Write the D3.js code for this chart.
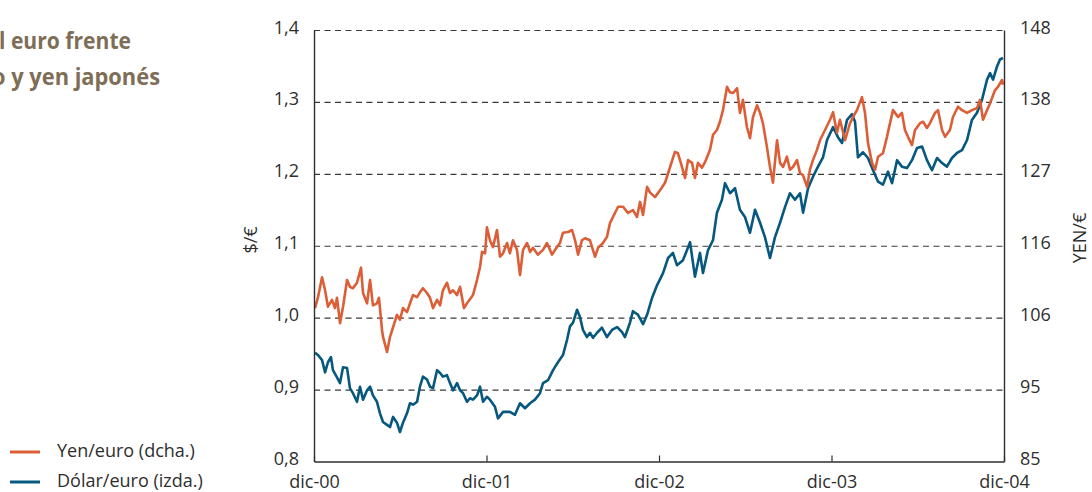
<!DOCTYPE html>
<html>
<head>
<meta charset="utf-8">
<script src="https://cdn.jsdelivr.net/npm/d3@7"></script>
<style>
  body { margin: 0; background: #fff; }
  svg { display: block; font-family: "Open Sans", Lato, sans-serif; }
</style>
</head>
<body>
<svg width="1092" height="492"></svg>
<script>
// months since dic-00, value
const dolarEuro = [
  [0.07,0.951],[0.28,0.948],[0.56,0.941],[0.77,0.924],[0.97,0.938],[1.18,0.945],[1.32,0.927],[1.60,0.917],
  [1.81,0.909],[2.02,0.931],[2.30,0.930],[2.50,0.902],[2.71,0.895],[2.99,0.883],[3.20,0.904],[3.41,0.886],
  [3.69,0.899],[3.90,0.904],[4.10,0.892],[4.38,0.883],[4.59,0.867],[4.80,0.855],[5.08,0.851],[5.29,0.848],
  [5.50,0.862],[5.77,0.854],[5.98,0.841],[6.19,0.854],[6.47,0.867],[6.68,0.881],[6.89,0.879],[7.17,0.883],
  [7.37,0.904],[7.58,0.918],[7.86,0.914],[8.07,0.904],[8.28,0.902],[8.56,0.927],[8.77,0.923],[8.97,0.918],
  [9.25,0.920],[9.46,0.909],[9.67,0.899],[9.95,0.909],[10.16,0.899],[10.37,0.895],[10.64,0.883],[10.85,0.888],
  [11.06,0.886],[11.34,0.892],[11.55,0.904],[11.76,0.883],[12.03,0.890],[12.24,0.886],[12.59,0.876],[12.80,0.860],
  [13.15,0.869],[13.63,0.869],[13.98,0.865],[14.33,0.881],[14.68,0.874],[15.03,0.881],[15.37,0.886],[15.72,0.895],
  [15.93,0.909],[16.28,0.913],[16.63,0.927],[16.97,0.938],[17.32,0.948],[17.60,0.969],[17.81,0.988],[18.02,0.993],
  [18.30,1.011],[18.50,1.001],[18.71,0.983],[18.99,0.973],[19.20,0.979],[19.41,0.972],[19.69,0.979],[20.03,0.986],
  [20.38,0.973],[20.73,0.983],[21.08,0.987],[21.43,0.980],[21.63,0.973],[21.98,0.993],[22.19,1.009],[22.54,1.004],
  [22.89,0.991],[23.17,1.004],[23.51,1.027],[23.86,1.045],[24.28,1.062],[24.63,1.083],[24.97,1.090],[25.25,1.073],
  [25.67,1.080],[25.95,1.094],[26.16,1.105],[26.50,1.057],[26.85,1.090],[27.06,1.062],[27.41,1.094],[27.76,1.108],
  [28.03,1.146],[28.38,1.164],[28.59,1.187],[28.94,1.173],[29.29,1.180],[29.63,1.150],[29.98,1.140],[30.33,1.118],
  [30.68,1.150],[31.03,1.132],[31.37,1.112],[31.72,1.083],[32.07,1.112],[32.42,1.132],[32.77,1.154],[33.11,1.173],
  [33.46,1.164],[33.81,1.173],[34.02,1.146],[34.37,1.180],[34.71,1.196],[35.06,1.210],[35.41,1.223],[35.69,1.247],
  [36.11,1.265],[36.45,1.251],[36.73,1.243],[37.08,1.275],[37.43,1.283],[37.64,1.272],[37.84,1.223],[38.19,1.230],
  [38.54,1.222],[38.89,1.205],[39.24,1.189],[39.58,1.185],[39.93,1.203],[40.21,1.187],[40.56,1.219],[40.90,1.210],
  [41.25,1.208],[41.60,1.219],[41.95,1.236],[42.30,1.238],[42.64,1.219],[42.99,1.205],[43.34,1.222],[43.69,1.215],
  [44.03,1.210],[44.38,1.222],[44.73,1.229],[45.08,1.233],[45.43,1.247],[45.77,1.275],[46.12,1.285],[46.47,1.303],
  [46.82,1.331],[47.03,1.340],[47.24,1.331],[47.51,1.349],[47.72,1.359],[47.93,1.361]
];
const yenEuro = [
  [0.07,107.4],[0.28,109.0],[0.56,111.9],[0.77,110.0],[0.97,107.6],[1.25,108.6],[1.46,107.4],[1.60,108.9],
  [1.81,105.2],[2.02,107.6],[2.30,111.5],[2.50,110.5],[2.71,110.3],[2.99,111.1],[3.27,113.3],[3.41,109.6],
  [3.69,108.1],[3.90,111.5],[4.10,107.8],[4.38,108.1],[4.52,108.9],[4.73,104.2],[4.80,103.2],[5.08,101.0],
  [5.29,103.2],[5.50,104.6],[5.77,106.4],[5.98,105.7],[6.19,107.4],[6.47,106.8],[6.68,108.1],[6.89,109.3],
  [7.17,109.0],[7.37,109.7],[7.58,110.3],[7.86,109.6],[8.07,108.9],[8.28,107.4],[8.56,108.6],[8.77,107.8],
  [8.97,110.0],[9.25,111.1],[9.46,109.6],[9.67,110.0],[9.95,109.3],[10.16,110.5],[10.43,107.4],[10.71,108.3],
  [11.06,109.3],[11.34,111.5],[11.55,113.4],[11.69,115.6],[11.90,115.4],[12.03,119.2],[12.24,117.3],[12.45,116.3],
  [12.73,118.8],[12.94,114.9],[13.15,115.4],[13.43,116.9],[13.63,115.4],[13.84,117.3],[14.12,115.9],[14.33,112.2],
  [14.54,115.9],[14.82,116.9],[15.03,115.6],[15.23,116.2],[15.58,115.2],[15.93,115.9],[16.21,116.9],[16.56,115.2],
  [16.77,115.9],[17.11,116.9],[17.32,118.4],[17.67,118.5],[17.95,118.8],[18.16,117.3],[18.37,115.2],[18.64,117.3],
  [18.85,117.6],[19.20,117.3],[19.55,114.9],[19.76,116.2],[20.10,116.9],[20.38,117.8],[20.59,119.8],[20.80,120.7],
  [21.15,122.2],[21.50,122.2],[21.84,121.3],[22.19,121.7],[22.47,120.7],[22.68,122.9],[22.89,121.0],[23.17,125.1],
  [23.37,124.3],[23.72,123.6],[24.07,124.6],[24.42,125.7],[24.77,128.0],[25.11,130.2],[25.32,130.0],[25.60,128.0],
  [25.81,126.4],[26.02,129.0],[26.30,128.6],[26.50,126.4],[26.71,128.6],[26.99,127.9],[27.20,128.7],[27.55,130.5],
  [27.76,132.7],[28.03,133.4],[28.24,134.6],[28.45,136.3],[28.73,139.7],[28.94,138.9],[29.15,138.8],[29.43,139.5],
  [29.63,135.9],[29.84,137.8],[30.12,133.8],[30.33,132.2],[30.54,135.3],[30.82,137.0],[31.03,135.9],[31.23,134.4],
  [31.51,130.9],[31.72,128.0],[31.93,125.7],[32.21,131.9],[32.42,128.6],[32.63,128.0],[32.90,129.5],[33.11,127.6],
  [33.32,128.0],[33.60,129.0],[33.81,127.1],[34.02,126.8],[34.30,125.1],[34.50,127.6],[34.71,129.0],[34.99,130.5],
  [35.20,131.9],[35.55,133.4],[35.90,134.9],[36.11,136.0],[36.38,133.0],[36.59,134.9],[36.94,131.9],[37.29,134.4],
  [37.50,135.3],[37.77,136.3],[38.12,138.2],[38.33,135.9],[38.54,131.5],[38.82,128.6],[39.03,127.6],[39.24,129.5],
  [39.58,130.0],[39.86,132.4],[40.07,134.4],[40.28,136.3],[40.63,135.3],[40.90,135.9],[41.11,133.4],[41.32,132.4],
  [41.60,131.2],[41.81,133.4],[42.16,134.4],[42.37,134.6],[42.64,133.7],[42.85,134.4],[43.20,135.9],[43.41,136.3],
  [43.69,133.4],[43.90,132.4],[44.24,133.4],[44.45,135.3],[44.80,136.8],[45.08,136.3],[45.43,135.9],[45.77,136.3],
  [46.12,136.6],[46.33,137.8],[46.54,134.9],[46.82,136.3],[47.03,137.3],[47.37,139.2],[47.58,139.7],[47.86,140.7],
  [47.93,140.0]
];
const monthTicks = [0, 12, 24, 36, 48];
const monthLabels = ["dic-00", "dic-01", "dic-02", "dic-03", "dic-04"];
const dolarTicks = [0.8, 0.9, 1.0, 1.1, 1.2, 1.3, 1.4];
const yenTickLabels = ["85", "95", "106", "116", "127", "138", "148"];
const legendLabels = ["Yen/euro (dcha.)", "Dólar/euro (izda.)"];
const titleLines = ["l euro frente", "o y yen japonés"];

const plot = {left: 314, right: 1004, top: 30, bottom: 461.5};
const orange = "#dc5e36";
const blue = "#07587f";
const ink = "#2e2e2e";

var es = d3.formatLocale({decimal: ",", thousands: ".", grouping: [3], currency: ["", "€"]});

function getMonthScale(){
  return d3.scaleLinear().domain([0, 48]).range([plot.left, plot.right]);
}
function getDolarScale(){
  return d3.scaleLinear().domain([0.8, 1.4]).range([plot.bottom, plot.top]);
}
function getYenScale(){
  return d3.scaleLinear().domain([85, 148]).range([plot.bottom, plot.top]);
}

function renderGrid(scale, svg){
  var grid = d3.axisRight(scale)
               .tickValues(dolarTicks.slice(1))
               .tickSize(plot.right - plot.left)
               .tickFormat("");
  svg.append("g")
     .attr("transform", "translate(" + plot.left + ",0)")
     .call(grid)
     .call(function(g){
       g.select(".domain").remove();
       g.selectAll(".tick line").attr("stroke", "#3a3a3a").attr("stroke-width", 1.2).attr("stroke-dasharray", "6,4.5");
     });
}

function styleAxis(g){
  g.select(".domain").attr("stroke", ink).attr("stroke-width", 1.4);
  g.selectAll(".tick line").attr("stroke", ink).attr("stroke-width", 1.2);
  g.selectAll(".tick text").attr("fill", ink).style("font-size", "18px").style("font-family", "'Open Sans', sans-serif");
}

function renderDolarAxis(scale, svg){
  var yAxis = d3.axisLeft(scale)
                .tickValues(dolarTicks)
                .tickFormat(es.format(".1f"))
                .tickSize(0)
                .tickSizeOuter(0);
  svg.append("g")
     .attr("transform", "translate(" + plot.left + ",0)")
     .call(yAxis)
     .call(styleAxis)
     .call(function(g){ g.selectAll(".tick text").attr("x", -15).attr("dy", 3); });
}

function renderYenAxis(scale, dolarScale, svg){
  var yenValues = dolarTicks.map(function(d){ return scale.invert(dolarScale(d)); });
  var yAxis = d3.axisRight(scale)
                .tickValues(yenValues)
                .tickFormat(function(d, i){ return yenTickLabels[i]; })
                .tickSize(0)
                .tickSizeOuter(0);
  svg.append("g")
     .attr("transform", "translate(" + plot.right + ",0)")
     .call(yAxis)
     .call(styleAxis)
     .call(function(g){ g.selectAll(".tick text").attr("x", 16).attr("dy", 3); });
}

function renderMonthAxis(scale, svg){
  var xAxis = d3.axisBottom(scale)
                .tickValues(monthTicks)
                .tickFormat(function(d, i){ return monthLabels[i]; })
                .tickSize(-6)
                .tickSizeOuter(0);
  svg.append("g")
     .attr("transform", "translate(0," + plot.bottom + ")")
     .call(xAxis)
     .call(styleAxis)
     .call(function(g){ g.selectAll(".tick text").attr("y", 26).attr("dy", 0); });
}

function renderLine(data, xScale, yScale, color, svg){
  var line = d3.line()
               .x(function(d){ return xScale(d[0]); })
               .y(function(d){ return yScale(d[1]); });
  svg.append("path")
     .datum(data)
     .attr("fill", "none")
     .attr("stroke", color)
     .attr("stroke-width", 2.6)
     .attr("stroke-linejoin", "round")
     .attr("d", line);
}

function renderTitles(svg){
  var t = svg.append("g")
             .attr("fill", "#7e6d57")
             .style("font-family", "'Open Sans', sans-serif")
             .style("font-weight", "bold")
             .style("font-size", "23px");
  t.append("text").attr("x", -1).attr("y", 49).attr("textLength", 132).attr("lengthAdjust", "spacingAndGlyphs").text(titleLines[0]);
  t.append("text").attr("x", -8).attr("y", 85).attr("textLength", 168).attr("lengthAdjust", "spacingAndGlyphs").text(titleLines[1]);

  svg.append("text")
     .attr("transform", "translate(257,240) rotate(-90)")
     .attr("text-anchor", "middle")
     .attr("fill", ink)
     .style("font-size", "18px")
     .text("$/€");
  svg.append("text")
     .attr("transform", "translate(1086,238) rotate(-90)")
     .attr("text-anchor", "middle")
     .attr("fill", ink)
     .style("font-size", "18px")
     .text("YEN/€");
}

function renderLegend(svg){
  var colors = [orange, blue];
  var item = svg.selectAll(".legend")
                .data(legendLabels)
                .enter().append("g")
                .attr("class", "legend")
                .attr("transform", function(d, i){ return "translate(10," + (452 + i * 30) + ")"; });
  item.append("line")
      .attr("x1", 0).attr("x2", 30)
      .attr("stroke", function(d, i){ return colors[i]; })
      .attr("stroke-width", 3);
  item.append("text")
      .attr("x", 47).attr("y", 5)
      .attr("fill", ink)
      .style("font-size", "18px")
      .text(function(d){ return d; });
}

function renderChart(){
  var svg = d3.select("svg");
  var monthScale = getMonthScale();
  var dolarScale = getDolarScale();
  var yenScale = getYenScale();

  renderGrid(dolarScale, svg);
  renderLine(dolarEuro, monthScale, dolarScale, blue, svg);
  renderLine(yenEuro, monthScale, yenScale, orange, svg);
  renderDolarAxis(dolarScale, svg);
  renderYenAxis(yenScale, dolarScale, svg);
  renderMonthAxis(monthScale, svg);
  renderTitles(svg);
  renderLegend(svg);
}

renderChart();
</script>
</body>
</html>
